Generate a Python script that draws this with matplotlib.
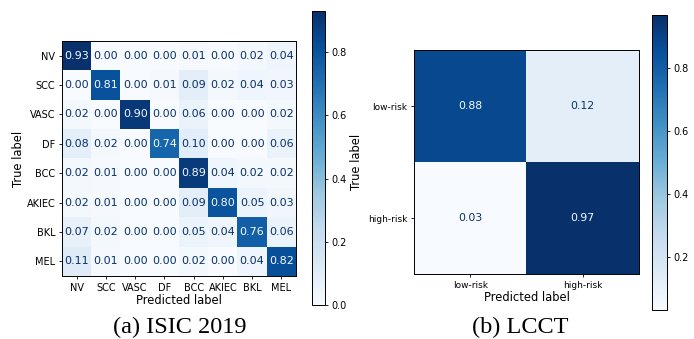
import numpy as np
import matplotlib
matplotlib.use("Agg")
from matplotlib import pyplot as plt

# 数据
isic_labels = ["NV", "SCC", "VASC", "DF", "BCC", "AKIEC", "BKL", "MEL"]
isic_cm = [
    [0.93, 0.00, 0.00, 0.00, 0.01, 0.00, 0.02, 0.04],
    [0.00, 0.81, 0.00, 0.01, 0.09, 0.02, 0.04, 0.03],
    [0.02, 0.00, 0.90, 0.00, 0.06, 0.00, 0.00, 0.02],
    [0.08, 0.02, 0.00, 0.74, 0.10, 0.00, 0.00, 0.06],
    [0.02, 0.01, 0.00, 0.00, 0.89, 0.04, 0.02, 0.02],
    [0.02, 0.01, 0.00, 0.00, 0.09, 0.80, 0.05, 0.03],
    [0.07, 0.02, 0.00, 0.00, 0.05, 0.04, 0.76, 0.06],
    [0.11, 0.01, 0.00, 0.00, 0.02, 0.00, 0.04, 0.82],
]
lcct_labels = ["low-risk", "high-risk"]
lcct_cm = [
    [0.88, 0.12],
    [0.03, 0.97],
]

W, H = 694, 339


def px_box(x0, y0, x1, y1):
    return [x0 / W, 1 - y1 / H, (x1 - x0) / W, (y1 - y0) / H]


def draw_cm(ax, cax, cm, labels, fs_cell, fs_tick, ylab_x):
    cm = np.array(cm)
    cmap = plt.get_cmap("Blues")
    im = ax.imshow(cm, cmap=cmap, interpolation="nearest", aspect="auto")
    thresh = (cm.max() + cm.min()) / 2.0
    for i in range(cm.shape[0]):
        for j in range(cm.shape[1]):
            color = cmap(0.0) if cm[i, j] >= thresh else cmap(1.0)
            ax.text(j, i, "%.2f" % cm[i, j], ha="center", va="center",
                    color=color, fontsize=fs_cell)
    n = len(labels)
    ax.set_xticks(range(n))
    ax.set_yticks(range(n))
    ax.set_xticklabels(labels, fontsize=fs_tick)
    ax.set_yticklabels(labels, fontsize=fs_tick)
    ax.tick_params(length=2.5, width=0.6, pad=2.2)
    for s in ax.spines.values():
        s.set_linewidth(0.7)
    ax.set_xlabel("Predicted label", fontsize=8.3, labelpad=1)
    ax.set_ylabel("True label", fontsize=8.3)
    ax.yaxis.set_label_coords(ylab_x, 0.5)
    cb = plt.colorbar(im, cax=cax)
    cb.ax.tick_params(labelsize=7, length=2.5, width=0.6, pad=2.2)
    cb.outline.set_linewidth(0.7)
    return cb


fig = plt.figure(figsize=(W / 100, H / 100), dpi=100)

ax1 = fig.add_axes(px_box(62, 41, 296, 276))
cax1 = fig.add_axes(px_box(312, 11, 325, 305))
draw_cm(ax1, cax1, isic_cm, isic_labels, 8, 7, -0.16)
cax1.set_yticks([0.0, 0.2, 0.4, 0.6, 0.8])

ax2 = fig.add_axes(px_box(414, 50, 639, 274))
cax2 = fig.add_axes(px_box(652, 15, 667, 310))
draw_cm(ax2, cax2, lcct_cm, lcct_labels, 7.8, 6.5, -0.225)
cax2.set_yticks([0.2, 0.4, 0.6, 0.8])

# 子图标题
fig.text(180 / W, 0.035, "(a) ISIC 2019", ha="center", va="center",
         family="Liberation Serif", fontsize=17.5)
fig.text(520 / W, 0.035, "(b) LCCT", ha="center", va="center",
         family="Liberation Serif", fontsize=17.5)

fig.savefig("out.png", dpi=100)
